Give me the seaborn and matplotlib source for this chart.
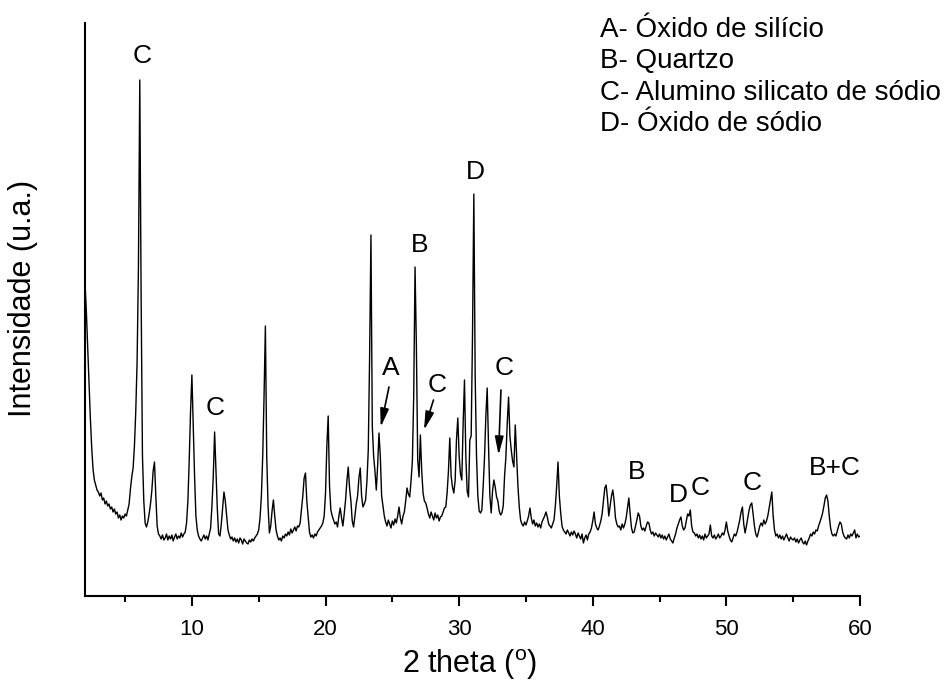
import numpy as np
import pandas as pd
import matplotlib
matplotlib.use("Agg")
import matplotlib.pyplot as plt
import seaborn as sns

# Scan grid of the diffractometer: 2 theta from 2 to 60 degrees, step 0.1
scan_start, scan_step, scan_end = 2.0, 0.1, 60.0

# Measured intensity (arbitrary units), one row per degree of 2 theta
intensity = [
    313, 285, 250, 215, 178, 149, 127, 116, 111, 106,   # 2
    104, 100, 103, 96, 98, 92, 95, 90, 92, 87,          # 3
    89, 84, 87, 82, 84, 78, 81, 76, 80, 78,             # 4
    82, 80, 86, 92, 107, 119, 128, 150, 185, 235,       # 5
    330, 516, 300, 140, 95, 73, 69, 74, 82, 92,         # 6
    105, 125, 134, 100, 70, 62, 60, 57, 61, 56,         # 7
    58, 62, 56, 60, 57, 61, 55, 59, 62, 57,             # 8
    60, 58, 63, 59, 62, 64, 73, 95, 136, 185,           # 9
    221, 170, 120, 80, 66, 60, 57, 55, 58, 61,          # 10
    57, 60, 56, 62, 68, 90, 120, 164, 125, 88,          # 11
    62, 60, 72, 88, 104, 95, 80, 66, 61, 57,            # 12
    59, 55, 58, 54, 57, 53, 58, 56, 52, 57,             # 13
    55, 53, 52, 56, 54, 57, 55, 58, 60, 62,             # 14
    66, 78, 100, 140, 200, 270, 140, 90, 63, 70,        # 15
    85, 96, 80, 66, 60, 56, 58, 55, 60, 58,             # 16
    62, 60, 64, 61, 67, 63, 66, 69, 65, 70,             # 17
    69, 73, 86, 100, 118, 123, 95, 79, 64, 59,          # 18
    61, 58, 62, 60, 64, 66, 68, 70, 73, 80,             # 19
    103, 150, 180, 110, 86, 80, 76, 72, 74, 69,         # 20
    80, 88, 78, 70, 82, 96, 115, 129, 108, 95,          # 21
    75, 69, 80, 92, 100, 118, 128, 100, 89, 92,         # 22
    96, 115, 146, 240, 361, 170, 140, 125, 106, 130,    # 23
    163, 140, 100, 90, 80, 74, 70, 76, 72, 68,          # 24
    75, 71, 77, 73, 80, 89, 78, 72, 80, 84,             # 25
    95, 108, 102, 99, 115, 135, 200, 329, 250, 136,     # 26
    119, 161, 125, 103, 95, 93, 88, 82, 78, 84,         # 27
    80, 76, 83, 78, 81, 75, 79, 80, 84, 88,             # 28
    89, 103, 125, 158, 120, 109, 103, 115, 156, 178,    # 29
    140, 122, 116, 173, 216, 140, 105, 99, 156, 160,    # 30
    260, 402, 220, 140, 100, 85, 83, 86, 110, 139,      # 31
    180, 208, 150, 100, 83, 105, 116, 109, 99, 95,      # 32
    85, 81, 83, 90, 120, 139, 173, 199, 160, 146,       # 33
    135, 129, 171, 140, 110, 89, 76, 72, 70, 74,        # 34
    71, 75, 80, 88, 78, 72, 76, 70, 73, 69,             # 35
    72, 68, 74, 77, 80, 84, 79, 72, 70, 68,             # 36
    72, 76, 90, 110, 134, 100, 83, 70, 66, 64,          # 37
    62, 66, 63, 60, 64, 61, 65, 62, 58, 63,             # 38
    60, 57, 62, 53, 58, 61, 56, 62, 64, 68,             # 39
    75, 84, 72, 68, 66, 70, 75, 82, 95, 108,            # 40
    111, 98, 80, 90, 100, 106, 95, 78, 72, 69,          # 41
    70, 66, 72, 68, 72, 78, 88, 98, 82, 68,             # 42
    63, 64, 70, 76, 83, 80, 70, 66, 68, 65,             # 43
    70, 74, 73, 66, 62, 64, 60, 63, 61, 59,             # 44
    62, 58, 61, 57, 60, 56, 59, 62, 57, 55,             # 45
    53, 58, 62, 68, 72, 76, 79, 70, 66, 68,             # 46
    75, 82, 80, 86, 70, 64, 63, 60, 62, 58,             # 47
    61, 57, 60, 56, 62, 58, 60, 62, 71, 60,             # 48
    58, 61, 57, 59, 62, 58, 60, 63, 61, 66,             # 49
    74, 65, 60, 56, 54, 58, 62, 60, 64, 70,             # 50
    76, 84, 89, 72, 63, 70, 78, 86, 91, 93,             # 51
    82, 70, 62, 59, 64, 70, 73, 70, 76, 72,             # 52
    75, 80, 88, 96, 104, 80, 66, 60, 62, 58,            # 53
    61, 57, 60, 56, 59, 62, 58, 55, 59, 57,             # 54
    56, 58, 54, 57, 53, 56, 58, 54, 52, 55,             # 55
    51, 55, 58, 62, 60, 64, 62, 66, 65, 70,             # 56
    74, 78, 83, 90, 98, 101, 95, 80, 68, 62,            # 57
    60, 62, 60, 65, 70, 74, 72, 64, 60, 58,             # 58
    57, 61, 58, 62, 60, 63, 66, 58, 62, 59,             # 59
    60,                                                 # 60
]

# Phase identification of the peaks
phase_legend = [
    "A- Óxido de silício",
    "B- Quartzo",
    "C- Alumino silicato de sódio",
    "D- Óxido de sódio",
]
peak_labels = ["C", "C", "A", "B", "C", "D", "C", "B", "D", "C", "C", "B+C"]

# Where each peak label sits (2 theta, intensity)
label_x = [6.25, 11.75, 24.88, 27.05, 28.33, 31.25, 33.37, 43.25, 46.42, 48.0, 51.93, 58.12]
label_y = [540, 188, 228, 351, 211, 424, 228, 124, 101, 108, 113, 128]

# Arrows from label to a small peak: (start x, start y, tip x, tip y)
arrows = [
    (24.75, 209, 24.13, 169),
    (28.08, 196, 27.37, 166),
    (33.13, 206, 32.95, 141),
]

two_theta = np.round(scan_start + scan_step * np.arange(len(intensity)), 1)
df = pd.DataFrame({"two_theta": two_theta, "intensity": intensity})

sns.set_style("ticks")
plt.rcParams["font.family"] = ["Liberation Sans", "DejaVu Sans"]
plt.rcParams["mathtext.fontset"] = "custom"
plt.rcParams["mathtext.rm"] = "Liberation Sans"
plt.rcParams["mathtext.it"] = "Liberation Sans:italic"
for key in ("text.color", "axes.labelcolor", "xtick.color", "ytick.color",
            "axes.edgecolor"):
    plt.rcParams[key] = "black"

fig = plt.figure(figsize=(9.47, 6.93), dpi=100)
ax = fig.add_axes([85 / 947, 97 / 693, 775 / 947, 573 / 693])

sns.lineplot(data=df, x="two_theta", y="intensity", color="black",
             linewidth=1.0, ax=ax)

ax.set_xlim(scan_start, scan_end)
ax.set_ylim(0, 573)
ax.set_xticks([10, 20, 30, 40, 50, 60])
ax.set_xticks([5, 15, 25, 35, 45, 55], minor=True)
ax.set_yticks([])
ax.set_xlabel("")
ax.set_ylabel("")
for side in ("top", "right"):
    ax.spines[side].set_visible(False)
for side in ("left", "bottom"):
    ax.spines[side].set_linewidth(1.5)
ax.tick_params(axis="x", which="major", direction="out", length=7.5,
               width=1.5, labelsize=16, pad=9)
ax.tick_params(axis="x", which="minor", direction="out", length=4, width=1.5)

for text, x, y in zip(peak_labels, label_x, label_y):
    ax.text(x, y, text, ha="center", va="center", fontsize=19)

for x0, y0, x1, y1 in arrows:
    ax.annotate("", xy=(x1, y1), xytext=(x0, y0),
                arrowprops=dict(arrowstyle="-|>,head_length=0.55,head_width=0.13",
                                color="black", lw=1.2, mutation_scale=20,
                                shrinkA=0, shrinkB=0))

for i, line in enumerate(phase_legend):
    fig.text(600 / 947, 1 - (30 + 31.3 * i) / 693, line,
             ha="left", va="center", fontsize=20)

fig.text(470 / 947, 1 - 665 / 693, r"2 theta ($^\mathrm{o}$)",
         ha="center", va="center", fontsize=22)
fig.text(23 / 947, 1 - 298 / 693, "Intensidade (u.a.)",
         ha="center", va="center", rotation=90, fontsize=22)

fig.savefig("out.png", dpi=100)
